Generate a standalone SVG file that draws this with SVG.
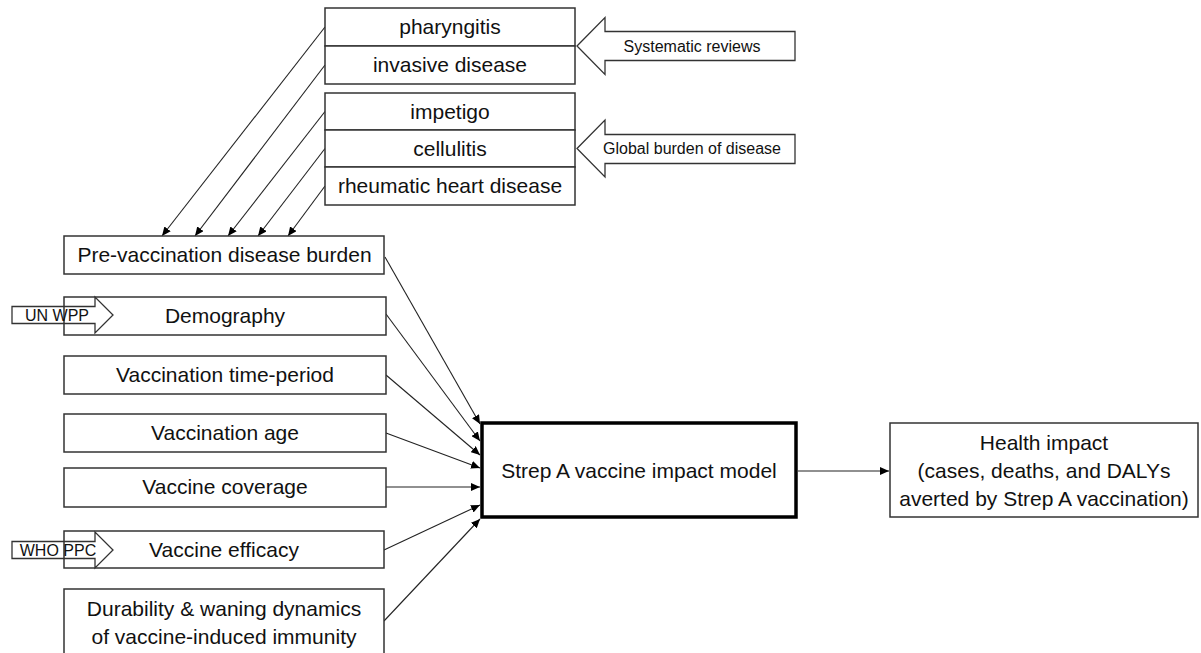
<svg xmlns="http://www.w3.org/2000/svg" width="1201" height="653" viewBox="0 0 1201 653">
<style>
.box{fill:#fff;stroke:#333;stroke-width:1.5}
.main{fill:#fff;stroke:#000;stroke-width:3.5}
.t{font-family:"Liberation Sans",Arial,sans-serif;font-size:21px;fill:#111;text-anchor:middle}
.s{font-family:"Liberation Sans",Arial,sans-serif;font-size:16px;fill:#111;text-anchor:middle}
.blk{fill:#fff;stroke:#333;stroke-width:1.3}
.blk2{fill:none;stroke:#333;stroke-width:1.3}
.c{stroke:#222;stroke-width:1.1;fill:none;marker-end:url(#ah)}
</style>
<defs>
<marker id="ah" markerUnits="userSpaceOnUse" markerWidth="10" markerHeight="8" refX="9" refY="4" orient="auto">
<path d="M0,0 L9,4 L0,8 Z" fill="#000"/>
</marker>
</defs>
<rect width="1201" height="653" fill="#fff"/>

<g id="connectors">
<line class="c" x1="325" y1="27" x2="162" y2="236"/>
<line class="c" x1="325" y1="65" x2="195" y2="236"/>
<line class="c" x1="325" y1="111.5" x2="228" y2="236"/>
<line class="c" x1="325" y1="148.5" x2="258" y2="236"/>
<line class="c" x1="325" y1="186" x2="288" y2="236"/>
<line class="c" x1="385" y1="257" x2="480" y2="424"/>
<line class="c" x1="386" y1="314" x2="480" y2="441"/>
<line class="c" x1="386" y1="375" x2="480" y2="455"/>
<line class="c" x1="386" y1="433" x2="480" y2="468"/>
<line class="c" x1="386" y1="487" x2="480" y2="487"/>
<line class="c" x1="384" y1="550" x2="480" y2="505"/>
<line class="c" x1="384" y1="621" x2="480" y2="519"/>
<line class="c" x1="798" y1="471" x2="889" y2="471"/>
</g>

<g id="pharyngitis-group">
<rect class="box" x="325" y="8" width="250" height="38"/>
<text class="t" x="450" y="34">pharyngitis</text>
<rect class="box" x="325" y="46" width="250" height="38"/>
<text class="t" x="450" y="72">invasive disease</text>
</g>

<g id="gbd-group">
<rect class="box" x="325" y="93" width="250" height="37"/>
<text class="t" x="450" y="119">impetigo</text>
<rect class="box" x="325" y="130" width="250" height="37"/>
<text class="t" x="450" y="156">cellulitis</text>
<rect class="box" x="325" y="167" width="250" height="38"/>
<text class="t" x="450" y="193">rheumatic heart disease</text>
</g>

<g id="systematic-reviews">
<path class="blk" d="M577,46 L605,17.5 L605,31.5 L795,31.5 L795,60.5 L605,60.5 L605,74.5 Z"/>
<text class="s" x="692" y="52">Systematic reviews</text>
</g>

<g id="global-burden">
<path class="blk" d="M577,148.5 L605,120 L605,134.5 L795,134.5 L795,163.5 L605,163.5 L605,177 Z"/>
<text class="s" x="692" y="154">Global burden of disease</text>
</g>

<g id="pre-vaccination">
<rect class="box" x="64" y="236" width="320" height="38"/>
<text class="t" x="224.5" y="262">Pre-vaccination disease burden</text>
</g>

<g id="demography">
<rect class="box" x="64" y="297" width="322" height="38"/>
<text class="t" x="225" y="323">Demography</text>
</g>

<g id="un-wpp">
<path class="blk2" d="M12,306.5 L95,306.5 L95,297 L113,315 L95,333 L95,323.5 L12,323.5 Z"/>
<text class="s" x="57" y="321">UN WPP</text>
</g>

<g id="time-period">
<rect class="box" x="64" y="356" width="322" height="38"/>
<text class="t" x="225" y="382">Vaccination time-period</text>
</g>

<g id="age">
<rect class="box" x="64" y="414" width="322" height="38"/>
<text class="t" x="225" y="440">Vaccination age</text>
</g>

<g id="coverage">
<rect class="box" x="64" y="468" width="322" height="39"/>
<text class="t" x="225" y="494">Vaccine coverage</text>
</g>

<g id="efficacy">
<rect class="box" x="64" y="531" width="320" height="37"/>
<text class="t" x="224" y="557">Vaccine efficacy</text>
</g>

<g id="who-ppc">
<path class="blk2" d="M12,541.5 L95,541.5 L95,532 L113,550 L95,568 L95,558.5 L12,558.5 Z"/>
<text class="s" x="58" y="556">WHO PPC</text>
</g>

<g id="durability">
<rect class="box" x="64" y="589" width="320" height="80"/>
<text class="t" x="224" y="616">Durability &amp; waning dynamics</text>
<text class="t" x="224" y="644">of vaccine-induced immunity</text>
</g>

<g id="model">
<rect class="main" x="482" y="423" width="314" height="94"/>
<text class="t" x="639" y="478">Strep A vaccine impact model</text>
</g>

<g id="health-impact">
<rect class="box" x="890" y="423" width="308" height="94"/>
<text class="t" x="1044" y="450">Health impact</text>
<text class="t" x="1044" y="478">(cases, deaths, and DALYs</text>
<text class="t" x="1044" y="506">averted by Strep A vaccination)</text>
</g>
</svg>
